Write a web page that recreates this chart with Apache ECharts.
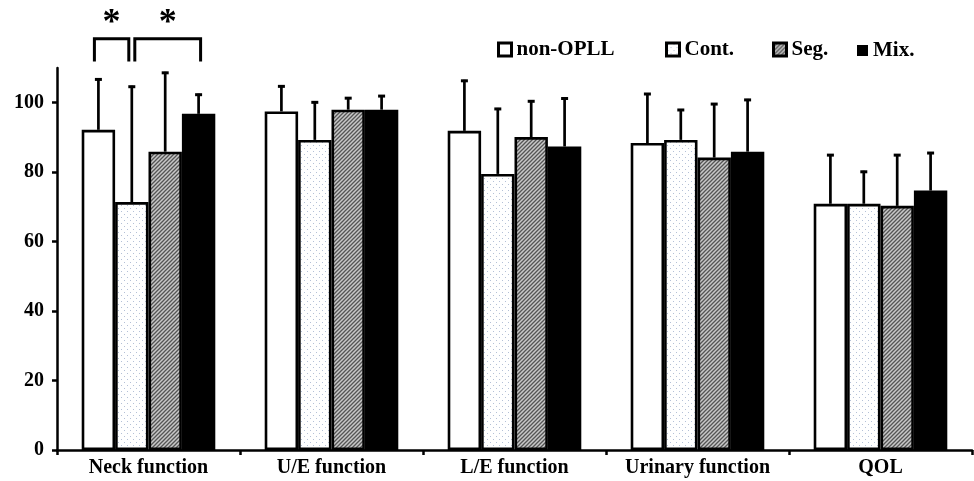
<!DOCTYPE html>
<html>
<head>
<meta charset="utf-8">
<script src="https://cdn.jsdelivr.net/npm/echarts@6/dist/echarts.min.js"></script>
<style>html,body{margin:0;padding:0;background:#fff}#c{width:974px;height:481px}</style>
</head>
<body>
<div id="c"></div>
<script>
// ---- data ----
const categories = ['Neck function', 'U/E function', 'L/E function', 'Urinary function', 'QOL'];
const seriesNames = ['non-OPLL', 'Cont.', 'Seg.', 'Mix.'];
const nonOpllMean = [92.2, 97.5, 91.9, 88.4, 70.9];
const nonOpllSd   = [14.8, 7.5, 14.7, 14.4, 14.3];
const contMean    = [71.4, 89.3, 79.5, 89.3, 70.9];
const contSd      = [33.5, 11.1, 19.0, 8.9, 9.5];
const segMean     = [85.9, 98.0, 90.1, 84.2, 70.3];
const segSd       = [23.0, 3.6, 10.6, 15.7, 14.9];
const mixMean     = [96.8, 98.0, 87.4, 85.9, 74.7];
const mixSd       = [5.8, 4.2, 14.1, 15.2, 11.1];
const yTicks = [0, 20, 40, 60, 80, 100];
// significance: [category index, series A, series B, label]
const sigPairs = [[0, 0, 1, '*'], [0, 1, 3, '*']];
const sigBracketTop = 118.4, sigBracketBottom = 111.9, sigStarY = 124.5;

// ---- patterns ----
function dotPattern() {
  const c = document.createElement('canvas'); c.width = 6; c.height = 6;
  const g = c.getContext('2d');
  g.fillStyle = '#ffffff'; g.fillRect(0, 0, 6, 6);
  g.fillStyle = '#b4c0d6';
  g.fillRect(1, 1, 1, 1); g.fillRect(4, 4, 1, 1);
  return { image: c, repeat: 'repeat' };
}
function hatchPattern() {
  const c = document.createElement('canvas'); c.width = 4; c.height = 4;
  const g = c.getContext('2d');
  g.fillStyle = '#c8c8c8'; g.fillRect(0, 0, 4, 4);
  g.strokeStyle = '#555555'; g.lineWidth = 1.3;
  g.beginPath();
  g.moveTo(-1, 5); g.lineTo(5, -1);
  g.moveTo(-1, 1); g.lineTo(1, -1);
  g.moveTo(3, 5); g.lineTo(5, 3);
  g.stroke();
  return { image: c, repeat: 'repeat' };
}
const fills = ['#ffffff', dotPattern(), hatchPattern(), '#000000'];
const means = [nonOpllMean, contMean, segMean, mixMean];
const sds = [nonOpllSd, contSd, segSd, mixSd];

const FONT = 'Liberation Serif';
const GROUP_FRAC = 0.73;

const barSeries = seriesNames.map((n, k) => ({
  name: n, type: 'bar', data: means[k],
  barGap: '0%', barCategoryGap: ((1 - GROUP_FRAC) * 100) + '%',
  itemStyle: { color: fills[k], borderColor: '#000', borderWidth: 2.6 },
  emphasis: { disabled: true }, z: 2
}));

const errSeries = seriesNames.map((n, k) => ({
  name: n + '-err', type: 'custom', z: 3, silent: true,
  data: categories.map((c, i) => [i, means[k][i], sds[k][i]]),
  renderItem: function (params, api) {
    const ci = api.value(0), m = api.value(1), sd = api.value(2);
    const band = api.size([1, 0])[0];
    const bw = band * GROUP_FRAC / 4;
    const base = api.coord([ci, m]);
    const top = api.coord([ci, m + sd]);
    const x = base[0] + (k - 1.5) * bw;
    return {
      type: 'group', children: [
        { type: 'line', shape: { x1: x, y1: base[1], x2: x, y2: top[1] }, style: { stroke: '#000', lineWidth: 2.7 } },
        { type: 'line', shape: { x1: x - 3.5, y1: top[1] + 1, x2: x + 3.5, y2: top[1] + 1 }, style: { stroke: '#000', lineWidth: 3 } }
      ]
    };
  }
}));

const sigSeries = {
  name: 'sig', type: 'custom', z: 4, silent: true, clip: false,
  data: sigPairs.map((p, j) => [p[0], p[1], p[2], j]),
  renderItem: function (params, api) {
    const ci = api.value(0), a = api.value(1), b = api.value(2), j = api.value(3);
    const band = api.size([1, 0])[0];
    const bw = band * GROUP_FRAC / 4;
    const c0 = api.coord([ci, 0])[0];
    const xa = c0 + (a - 1.5) * bw + (j === 0 ? -4 : 3);
    const xb = c0 + (b - 1.5) * bw + (j === 0 ? -3 : 2);
    const yt = api.coord([ci, sigBracketTop])[1];
    const yb = api.coord([ci, sigBracketBottom])[1];
    const ys = api.coord([ci, sigStarY])[1];
    return {
      type: 'group', children: [
        { type: 'polyline', shape: { points: [[xa, yb], [xa, yt], [xb, yt], [xb, yb]] }, style: { stroke: '#000', lineWidth: 3, fill: null } },
        { type: 'text', x: (xa + xb) / 2, y: ys + 6, style: { text: sigPairs[j][3], font: 'bold 36px "' + FONT + '"', fill: '#000', align: 'center', verticalAlign: 'middle' } }
      ]
    };
  }
};

const legendPos = [497, 665, 772, 857];
const legends = seriesNames.map((n, k) => ({
  data: [n], left: legendPos[k], top: k === 3 ? 40 : 39, icon: 'rect', padding: 0,
  itemWidth: k === 3 ? 11 : 13, itemHeight: k === 3 ? 11 : 13,
  itemGap: 0, selectedMode: false,
  itemStyle: { borderWidth: k === 3 ? 0 : 3 },
  textStyle: { fontFamily: FONT, fontWeight: 'bold', fontSize: 21, color: '#000', padding: [0, 0, 0, 0] }
}));

const chart = echarts.init(document.getElementById('c'), null, { renderer: 'canvas' });
chart.setOption({
  animation: false,
  backgroundColor: '#fff',
  legend: legends,
  grid: { left: 57, right: 2, top: 68, bottom: 31, containLabel: false },
  xAxis: {
    type: 'category', data: categories,
    axisLine: { lineStyle: { color: '#000', width: 2.5 } },
    axisTick: { show: true, interval: 0, length: 5, lineStyle: { color: '#000', width: 2.5 } },
    axisLabel: { interval: 0, color: '#000', fontFamily: FONT, fontWeight: 'bold', fontSize: 20, margin: 8 }
  },
  yAxis: {
    type: 'value', min: 0, max: 110, interval: 20,
    axisLine: { show: true, lineStyle: { color: '#000', width: 2.5 } },
    axisTick: { show: true, length: 5, lineStyle: { color: '#000', width: 2.5 }, customValues: yTicks },
    axisLabel: { color: '#000', fontFamily: FONT, fontWeight: 'bold', fontSize: 20, margin: 13, customValues: yTicks },
    splitLine: { show: false }
  },
  series: barSeries.concat(errSeries).concat([sigSeries])
});
</script>
</body>
</html>
